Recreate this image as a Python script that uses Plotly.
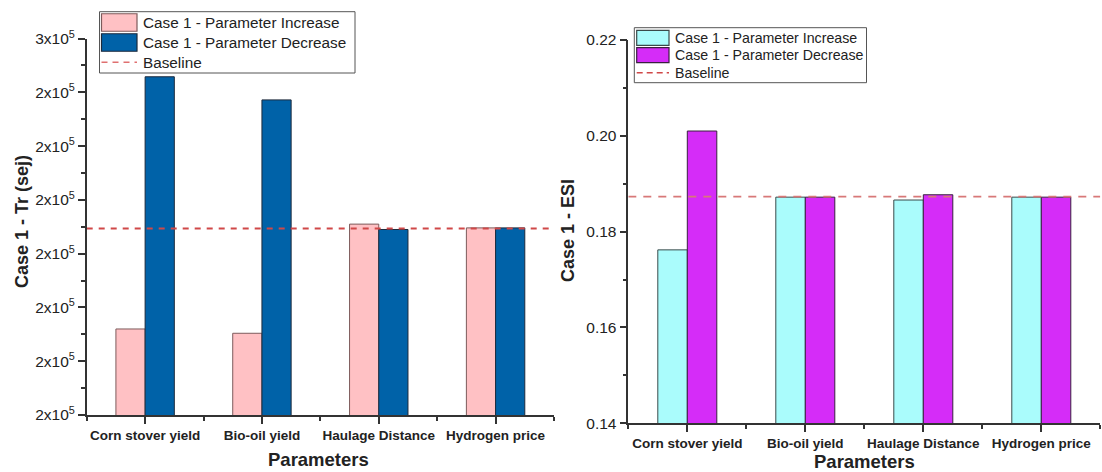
import plotly.graph_objects as go

# ---------------- data ----------------
categories = ["Corn stover yield", "Bio-oil yield", "Haulage Distance", "Hydrogen price"]
cat_pos = [0, 1, 2, 3]
series_names = ["Case 1 - Parameter Increase", "Case 1 - Parameter Decrease", "Baseline"]

tr_increase = [1.960e5, 1.952e5, 2.155e5, 2.148e5]
tr_decrease = [2.429e5, 2.386e5, 2.145e5, 2.148e5]
tr_baseline = 2.147e5
tr_tickvals = [1.8e5, 1.9e5, 2.0e5, 2.1e5, 2.2e5, 2.3e5, 2.4e5, 2.5e5]
tr_ticktext = ["2x10<sup>5</sup>"] * 7 + ["3x10<sup>5</sup>"]

esi_increase = [0.1762, 0.1872, 0.1866, 0.1872]
esi_decrease = [0.2010, 0.1872, 0.1877, 0.1872]
esi_baseline = 0.1873
esi_tickvals = [0.14, 0.16, 0.18, 0.20, 0.22]

# ---------------- figure ----------------
W, H = 1102, 472
FONT = "Liberation Sans, Arial, sans-serif"
AX = "#333333"

# colours / styles
L_INC, L_INC_LINE = "#FFC1C4", "#7d5b5b"
L_DEC, L_DEC_LINE = "#0062A8", "#1c2a3c"
L_BASE = "#D04848"
R_INC, R_INC_LINE = "#AAFCFC", "#3a4a4a"
R_DEC, R_DEC_LINE = "#D52CF8", "#3a2040"
R_BASE = "#D87878"

fig = go.Figure()

# left panel
fig.add_trace(go.Bar(x=cat_pos, y=tr_increase, name=series_names[0],
                     marker=dict(color=L_INC, line=dict(color=L_INC_LINE, width=1)),
                     xaxis="x", yaxis="y", showlegend=False))
fig.add_trace(go.Bar(x=cat_pos, y=tr_decrease, name=series_names[1],
                     marker=dict(color=L_DEC, line=dict(color=L_DEC_LINE, width=1)),
                     xaxis="x", yaxis="y", showlegend=False))
fig.add_trace(go.Scatter(x=[-0.5, 3.5], y=[tr_baseline, tr_baseline], mode="lines",
                         name=series_names[2], line=dict(color=L_BASE, width=2, dash="6px,6px"),
                         xaxis="x", yaxis="y", showlegend=False))

# right panel
fig.add_trace(go.Bar(x=cat_pos, y=esi_increase, name=series_names[0],
                     marker=dict(color=R_INC, line=dict(color=R_INC_LINE, width=1)),
                     xaxis="x2", yaxis="y2", showlegend=False))
fig.add_trace(go.Bar(x=cat_pos, y=esi_decrease, name=series_names[1],
                     marker=dict(color=R_DEC, line=dict(color=R_DEC_LINE, width=1)),
                     xaxis="x2", yaxis="y2", showlegend=False))
fig.add_trace(go.Scatter(x=[-0.5, 3.5], y=[esi_baseline, esi_baseline], mode="lines",
                         name=series_names[2], line=dict(color=R_BASE, width=1.6, dash="8px,7px"),
                         xaxis="x2", yaxis="y2", showlegend=False))


def px_x(v):
    return v / W


def px_y(v):
    return (H - v) / H


xcommon = dict(
    range=[-0.5, 3.5], tickmode="array", tickvals=cat_pos, ticktext=categories,
    showline=True, linecolor=AX, linewidth=1.5, ticks="outside", ticklen=7,
    tickwidth=1.5, tickcolor=AX, showgrid=False, zeroline=False, automargin=False,
    tickfont=dict(family=FONT, size=13.5, color="#222", weight="bold"),
    minor=dict(ticks="outside", ticklen=4, tickwidth=1.5, tickcolor=AX,
               tick0=0.5, dtick=1, showgrid=False),
    fixedrange=True,
)
ycommon = dict(
    showline=True, linecolor=AX, linewidth=1.5, ticks="outside", ticklen=7,
    tickwidth=1.5, tickcolor=AX, showgrid=False, zeroline=False, automargin=False,
    fixedrange=True,
)

fig.update_layout(
    width=W, height=H,
    margin=dict(l=0, r=0, t=0, b=0, autoexpand=False),
    paper_bgcolor="white", plot_bgcolor="white",
    barmode="group", bargap=0.5, bargroupgap=0,
    font=dict(family=FONT, color="#222"),
    showlegend=False,
    xaxis=dict(domain=[px_x(86.7), px_x(554)], anchor="y", **xcommon),
    yaxis=dict(domain=[px_y(415), px_y(38.6)], anchor="x",
               range=[tr_tickvals[0], tr_tickvals[-1]],
               tickmode="array", tickvals=tr_tickvals, ticktext=tr_ticktext,
               tickfont=dict(family=FONT, size=15.5, color="#222"),
               minor=dict(ticks="outside", ticklen=4, tickwidth=1.5, tickcolor=AX,
                          tick0=tr_tickvals[0], dtick=(tr_tickvals[1] - tr_tickvals[0]) / 2,
                          showgrid=False),
               **ycommon),
    xaxis2=dict(domain=[px_x(628.3), px_x(1100.3)], anchor="y2", **xcommon),
    yaxis2=dict(domain=[px_y(423.3), px_y(40)], anchor="x2",
                range=[esi_tickvals[0], esi_tickvals[-1]],
                tickmode="array", tickvals=esi_tickvals, ticktext=[f"{v:.2f}" for v in esi_tickvals],
                tickfont=dict(family=FONT, size=15.5, color="#222"),
                minor=dict(ticks="outside", ticklen=4, tickwidth=1.5, tickcolor=AX,
                           tick0=esi_tickvals[0], dtick=0.01, showgrid=False),
                **ycommon),
)


def add_legend(box, sw_x, rows, sw_h, text_x, fsize, styles):
    """Draw a boxed legend in pixel layout coordinates."""
    x0, y0, x1, y1 = box
    fig.add_shape(type="rect", xref="paper", yref="paper",
                  x0=px_x(x0), x1=px_x(x1), y0=px_y(y1), y1=px_y(y0),
                  line=dict(color="#555", width=1), fillcolor="white", layer="above")
    for name, yc, st in zip(series_names, rows, styles):
        if st[0] == "rect":
            fig.add_shape(type="rect", xref="paper", yref="paper",
                          x0=px_x(sw_x[0]), x1=px_x(sw_x[1]),
                          y0=px_y(yc + sw_h / 2), y1=px_y(yc - sw_h / 2),
                          fillcolor=st[1], line=dict(color=st[2], width=1.2), layer="above")
        else:
            fig.add_shape(type="line", xref="paper", yref="paper",
                          x0=px_x(sw_x[0]), x1=px_x(sw_x[1]), y0=px_y(yc), y1=px_y(yc),
                          line=dict(color=st[1], width=st[2], dash=st[3]), layer="above")
        fig.add_annotation(text=name, xref="paper", yref="paper",
                           x=px_x(text_x), y=px_y(yc), xanchor="left", yanchor="middle",
                           showarrow=False,
                           font=dict(family=FONT, size=fsize, color="#222"))


add_legend(box=(99.5, 11.7, 355, 73), sw_x=(101.5, 137), rows=(22.5, 42.5, 62.3), sw_h=17.5,
           text_x=140.5, fsize=15.3,
           styles=[("rect", L_INC, L_INC_LINE), ("rect", L_DEC, L_DEC_LINE),
                   ("line", "#E07070", 1.6, "6px,5px")])
add_legend(box=(634.3, 27.7, 866.5, 82.7), sw_x=(636.7, 669), rows=(37.8, 55.2, 72.7), sw_h=15,
           text_x=672.5, fsize=14.2,
           styles=[("rect", R_INC, R_INC_LINE), ("rect", R_DEC, R_DEC_LINE),
                   ("line", "#D04848", 1.6, "6px,4px")])

common_ann = dict(xref="paper", yref="paper", showarrow=False, xanchor="center", yanchor="middle")
fig.add_annotation(text="<b>Case 1 - Tr (sej)</b>", x=px_x(22), y=px_y(222), textangle=-90,
                   font=dict(family=FONT, size=18, color="#222"), **common_ann)
fig.add_annotation(text="<b>Case 1 - ESI</b>", x=px_x(568), y=px_y(231), textangle=-90,
                   font=dict(family=FONT, size=18, color="#222"), **common_ann)
fig.add_annotation(text="<b>Parameters</b>", x=px_x(318.5), y=px_y(459),
                   font=dict(family=FONT, size=18.5, color="#222"), **common_ann)
fig.add_annotation(text="<b>Parameters</b>", x=px_x(864), y=px_y(461),
                   font=dict(family=FONT, size=18.5, color="#222"), **common_ann)

fig.write_html("out.html")
